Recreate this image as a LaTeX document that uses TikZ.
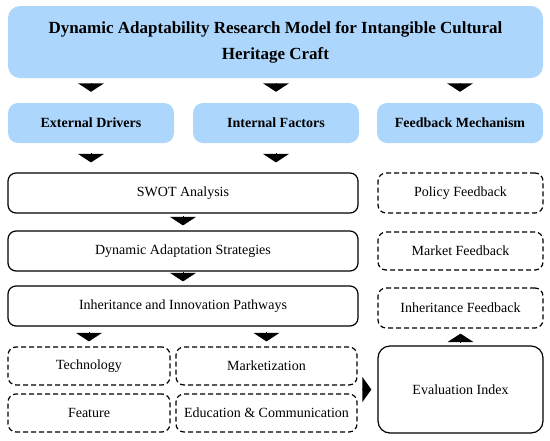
\documentclass[tikz,border=0pt]{standalone}
\usepackage{fontspec}
\setmainfont{Liberation Serif}
\usetikzlibrary{arrows.meta}
\definecolor{boxblue}{RGB}{173,214,252}
\begin{document}
\begin{tikzpicture}[x=1pt,y=-1pt,
    bluebox/.style={fill=boxblue, rounded corners=10pt, font=\fontsize{14}{17}\selectfont\bfseries, minimum height=40pt, minimum width=166pt, inner sep=0pt},
    solidbox/.style={draw, line width=1.2pt, rounded corners=8pt, font=\fontsize{14}{17}\selectfont, minimum width=350pt, minimum height=40pt, inner sep=0pt},
    dashbox/.style={draw, line width=1.2pt, dash pattern=on 5pt off 3pt, rounded corners=8pt, font=\fontsize{14}{17}\selectfont, minimum height=38pt, inner sep=0pt},
    tri/.style={-{Triangle[width=26pt,length=8.5pt]}, line width=0pt},
    trir/.style={-{Triangle[width=25pt,length=9pt]}, line width=0pt}]
    \useasboundingbox (0,0) rectangle (550,440);
    \node[fill=boxblue, rounded corners=12pt, minimum width=535pt, minimum height=72pt, align=center, font=\fontsize{17}{26}\selectfont\bfseries] (model) at (275.5,42) {Dynamic Adaptability Research Model for Intangible Cultural\\Heritage Craft};
    \node[bluebox] (ext) at (91,123) {External Drivers};
    \node[bluebox] (int) at (276,123) {Internal Factors};
    \node[bluebox] (fbm) at (460,123) {Feedback Mechanism};
    \node[solidbox] (swot) at (183,193) {SWOT Analysis};
    \node[solidbox] (das) at (183,251) {Dynamic Adaptation Strategies};
    \node[solidbox] (iip) at (183,306) {Inheritance and Innovation Pathways};
    \node[dashbox, minimum width=162pt] (tech) at (89,366) {Technology};
    \node[dashbox, minimum width=181pt] (mkt) at (266.5,366) {Marketization};
    \node[dashbox, minimum width=162pt] (feat) at (89,413) {Feature};
    \node[dashbox, minimum width=181pt] (edu) at (266.5,413) {Education \& Communication};
    \node[dashbox, minimum width=165pt, minimum height=40pt] (pol) at (460.5,193) {Policy Feedback};
    \node[dashbox, minimum width=165pt] (mfb) at (460.5,251) {Market Feedback};
    \node[dashbox, minimum width=165pt, minimum height=40pt] (ifb) at (460.5,308) {Inheritance Feedback};
    \node[draw, line width=1.2pt, rounded corners=12pt, minimum width=165pt, minimum height=87pt, font=\fontsize{14}{17}\selectfont] (eval) at (460.5,389.5) {Evaluation Index};
    \draw[tri] ([yshift=-6pt]model.south -| ext) -- ([yshift=11pt]ext.north);
    \draw[tri] ([yshift=-6pt]model.south -| int) -- ([yshift=11pt]int.north);
    \draw[tri] ([yshift=-6pt]model.south -| fbm) -- ([yshift=11pt]fbm.north);
    \draw[tri] ([yshift=-11pt]ext.south) -- ([yshift=10pt]swot.north -| ext);
    \draw[tri] ([yshift=-11pt]int.south) -- ([yshift=10pt]swot.north -| int);
    \draw[tri] ([yshift=-5pt]swot.south) -- ([yshift=5pt]das.north);
    \draw[tri] ([yshift=-4pt]das.south) -- ([yshift=4pt]iip.north);
    \draw[tri] ([yshift=-7pt]iip.south -| tech) -- ([yshift=5pt]tech.north);
    \draw[tri] ([yshift=-7pt]iip.south -| mkt) -- ([yshift=5pt]mkt.north);
    \draw[trir] ([xshift=6pt]mkt.east |- eval.west) -- ([xshift=-6pt]eval.west);
    \draw[tri] ([yshift=4pt]eval.north) -- ([yshift=-5pt]ifb.south);
\end{tikzpicture}
\end{document}
